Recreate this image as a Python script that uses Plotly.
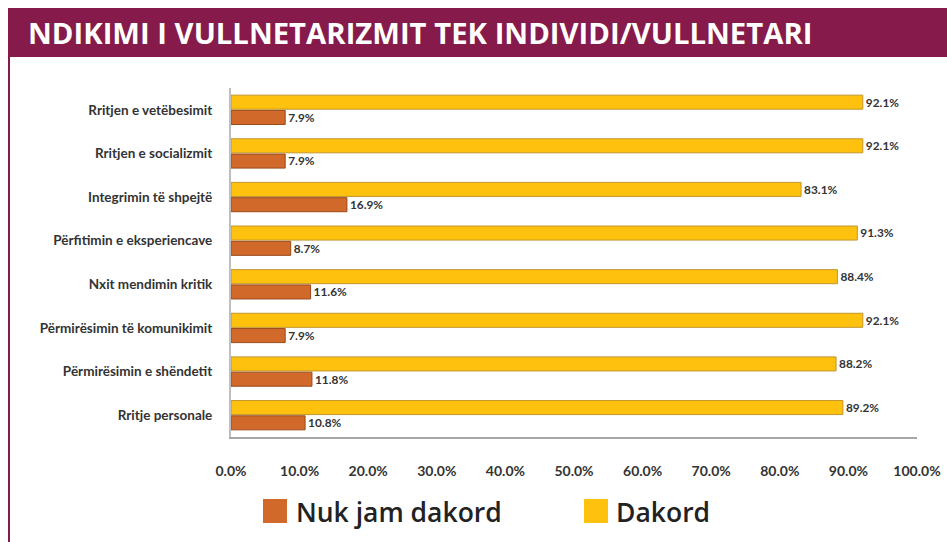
import plotly.graph_objects as go

title_text = "NDIKIMI I VULLNETARIZMIT TEK INDIVIDI/VULLNETARI"
categories = [
    "Rritjen e vetëbesimit",
    "Rritjen e socializmit",
    "Integrimin të shpejtë",
    "Përfitimin e eksperiencave",
    "Nxit mendimin kritik",
    "Përmirësimin të komunikimit",
    "Përmirësimin e shëndetit",
    "Rritje personale",
]
nuk_jam_dakord = [7.9, 7.9, 16.9, 8.7, 11.6, 7.9, 11.8, 10.8]
dakord = [92.1, 92.1, 83.1, 91.3, 88.4, 92.1, 88.2, 89.2]
series_names = ["Nuk jam dakord", "Dakord"]
tick_values = [0, 10, 20, 30, 40, 50, 60, 70, 80, 90, 100]
tick_labels = ["0.0%", "10.0%", "20.0%", "30.0%", "40.0%", "50.0%",
               "60.0%", "70.0%", "80.0%", "90.0%", "100.0%"]

MAROON = "#861A4A"
ORANGE = "#D0692A"
YELLOW = "#FEC10E"
TXT = "#333333"
FONT = "Lato"

fig = go.Figure()
# with a reversed category axis the first trace sits on top of each group
fig.add_trace(go.Bar(
    y=categories, x=dakord, orientation="h", name=series_names[1],
    marker=dict(color=YELLOW, line=dict(color="#C3962C", width=1)),
    texttemplate="%{x:.1f}%", textposition="outside", cliponaxis=False,
    textfont=dict(family=FONT, size=13.5, color=TXT, weight="bold"),
    showlegend=False,
))
fig.add_trace(go.Bar(
    y=categories, x=nuk_jam_dakord, orientation="h", name=series_names[0],
    marker=dict(color=ORANGE, line=dict(color="#9A4A1A", width=1)),
    texttemplate="%{x:.1f}%", textposition="outside", cliponaxis=False,
    textfont=dict(family=FONT, size=13.5, color=TXT, weight="bold"),
    showlegend=False,
))

W, H = 947, 542
ml, mr, mt, mb = 231, 30, 88, 105
pw = W - ml - mr
ph = H - mt - mb


def px(x):
    return (x - ml) / pw


def py(y):
    return (H - mb - y) / ph


shapes = [
    # title band
    dict(type="rect", xref="paper", yref="paper",
         x0=px(8), x1=px(W), y0=py(57), y1=py(8),
         fillcolor=MAROON, line=dict(width=0), layer="below"),
    # left border line
    dict(type="line", xref="paper", yref="paper",
         x0=px(9), x1=px(9), y0=py(H), y1=py(57),
         line=dict(color=MAROON, width=2)),
]

annotations = [
    dict(text=title_text, xref="paper", yref="paper", x=px(26), y=py(33),
         xanchor="left", yanchor="middle", showarrow=False,
         font=dict(family="Open Sans", size=29.3, color="white", weight="bold")),
]
legend_items = [(series_names[0], ORANGE, 263, 294), (series_names[1], YELLOW, 584, 614)]
for name, col, sx, tx in legend_items:
    shapes.append(dict(type="rect", xref="paper", yref="paper",
                       x0=px(sx), x1=px(sx + 24), y0=py(523), y1=py(499),
                       fillcolor=col, line=dict(width=0)))
    annotations.append(dict(text=name, xref="paper", yref="paper", x=px(tx), y=py(512),
                            xanchor="left", yanchor="middle", showarrow=False,
                            font=dict(family="Open Sans", size=26.5, color="#222222", weight=600)))

fig.update_layout(
    width=W, height=H,
    margin=dict(l=ml, r=mr, t=mt, b=mb, autoexpand=False),
    paper_bgcolor="white", plot_bgcolor="white",
    barmode="group", bargap=0.3, bargroupgap=0.08,
    shapes=shapes, annotations=annotations,
    xaxis=dict(range=[0, 100], tickvals=tick_values, ticktext=tick_labels,
               showgrid=False, zeroline=False, showline=True, linecolor="#A6A6A6",
               linewidth=2, ticks="", ticklabelstandoff=20,
               tickfont=dict(family=FONT, size=14, color=TXT, weight="bold")),
    yaxis=dict(autorange="reversed", showgrid=False, zeroline=False, showline=True,
               linecolor="#BFBFBF", linewidth=2, ticks="", ticklabelstandoff=14,
               tickfont=dict(family=FONT, size=13.5, color=TXT, weight="bold")),
    font=dict(family=FONT),
)

fig.write_html("out.html", config={"displayModeBar": False},
               post_script="document.body.style.margin='0px';")
